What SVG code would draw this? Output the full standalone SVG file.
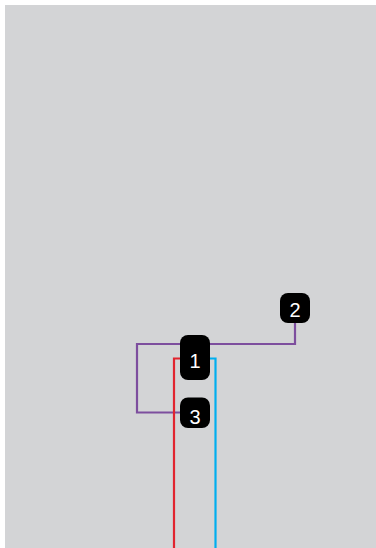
<svg xmlns="http://www.w3.org/2000/svg" width="376" height="548" viewBox="0 0 376 548">
<style>
.bg{fill:#d3d4d6}
.node rect{fill:#000}
.node text{fill:#fff;font-family:"Liberation Sans",Arial,sans-serif;font-size:20px;text-anchor:middle}
.c{fill:none;stroke-width:2.2;stroke-linejoin:miter}
</style>
<rect x="0" y="0" width="376" height="548" fill="#fff"/>
<rect class="bg" x="5" y="5" width="371" height="543"/>
<g id="connectors">
<path class="c" stroke="#7d4e9e" d="M295,323 V344 H137 V412.5 H180"/>
<path class="c" stroke="#e1242f" d="M180,358.5 H174 V548"/>
<path class="c" stroke="#00aeef" d="M210,358.5 H215.5 V548"/>
</g>
<g id="node1" class="node"><rect x="180" y="335" width="30" height="45" rx="8"/><text x="195" y="368">1</text></g>
<g id="node2" class="node"><rect x="280" y="293" width="30" height="30" rx="8"/><text x="295" y="316.5">2</text></g>
<g id="node3" class="node"><rect x="180" y="397.5" width="30" height="30.5" rx="8"/><text x="195" y="424">3</text></g>
</svg>
